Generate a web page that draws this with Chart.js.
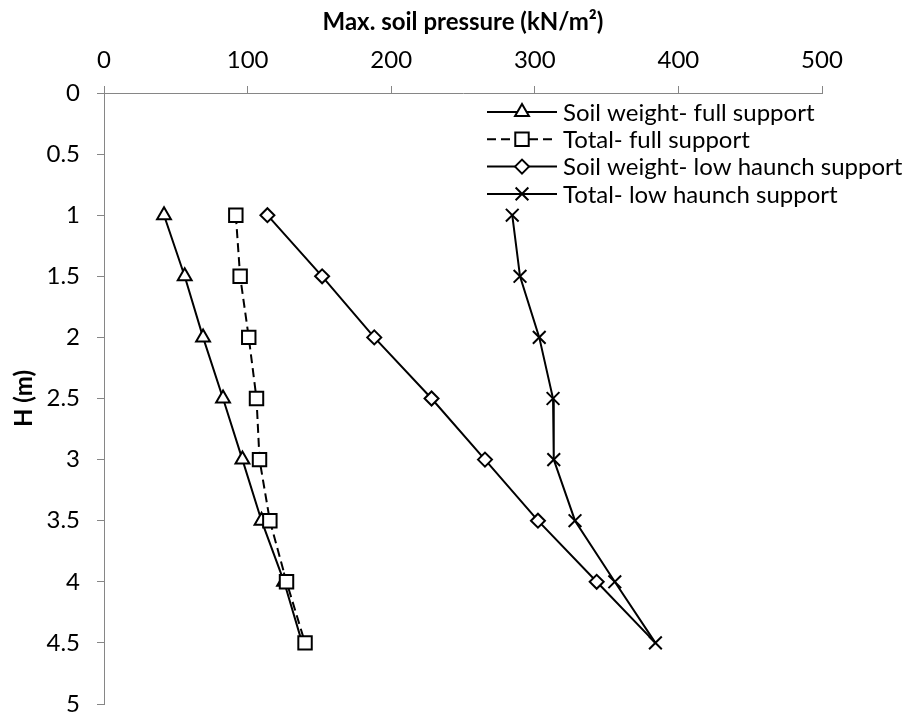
<!DOCTYPE html>
<html lang="en">
<head>
    <meta charset="UTF-8">
    <title>Max. soil pressure vs H</title>
    <script src="https://cdn.jsdelivr.net/npm/chart.js"></script>
    <style>
        body { margin: 0; background: #fff; }
        #box { width: 913px; height: 713px; }
    </style>
</head>
<body>
    <div id="box">
        <canvas id="myChart" width="913" height="713"></canvas>
    </div>

    <script>
        // depth H (m) for each measured point
        const depths = [1, 1.5, 2, 2.5, 3, 3.5, 4, 4.5];

        // max. soil pressure (kN/m²)
        const soilFull = [41.8, 56.2, 69.0, 82.9, 96.4, 109.7, 125.4, 138.0];
        const totalFull = [91.8, 94.8, 100.8, 106.2, 108.3, 115.5, 127.1, 140.0];
        const soilLow = [113.8, 151.9, 188.2, 228.1, 265.3, 302.2, 343.1, 384.0];
        const totalLow = [284.3, 289.7, 303.1, 312.7, 313.2, 328.0, 355.7, 384.0];

        const seriesNames = [
            'Soil weight- full support',
            'Total- full support',
            'Soil weight- low haunch support',
            'Total- low haunch support'
        ];

        const xTicks = [0, 100, 200, 300, 400, 500];
        const yTicks = ['0', '0.5', '1', '1.5', '2', '2.5', '3', '3.5', '4', '4.5', '5'];

        const FONT = 'Lato';
        const FSIZE = 24;
        const axisGrey = '#868686';

        const toPoints = (vals) => vals.map((v, i) => ({ x: v, y: depths[i] }));

        // last marker of the "soil weight" series sits under the other series' marker
        const radii = (r, hideLast) => depths.map((d, i) => (hideLast && i === depths.length - 1) ? 0 : r);

        const makeSet = (label, vals, style, radius, dash, order, hideLast) => ({
            label: label,
            data: toPoints(vals),
            borderColor: '#000',
            borderWidth: 2,
            borderDash: dash,
            pointStyle: style,
            legendRadius: radius,
            pointRadius: radii(radius, hideLast),
            pointHoverRadius: radii(radius, hideLast),
            pointBackgroundColor: '#fff',
            pointBorderColor: '#000',
            pointBorderWidth: 2,
            tension: 0,
            fill: false,
            order: order,
            clip: false
        });

        const chartData = {
            datasets: [
                makeSet(seriesNames[0], soilFull, 'triangle', 8, [], 3, true),
                makeSet(seriesNames[1], totalFull, 'rect', 9.5, [9, 5], 2, false),
                makeSet(seriesNames[2], soilLow, 'rectRot', 7, [], 1, true),
                makeSet(seriesNames[3], totalLow, 'crossRot', 9, [], 0, false)
            ]
        };

        // legend drawn inside the plot, line + marker + label
        const innerLegend = {
            id: 'innerLegend',
            afterDatasetsDraw(chart) {
                const ctx = chart.ctx;
                const area = chart.chartArea;
                const x0 = area.left + 383;
                const x1 = area.left + 453;
                const xm = (x0 + x1) / 2;
                const textX = area.left + 459;
                ctx.save();
                ctx.font = FSIZE + 'px ' + FONT;
                ctx.textBaseline = 'middle';
                chart.data.datasets.forEach((ds, i) => {
                    const y = area.top + 19 + i * 27.3;
                    ctx.strokeStyle = '#000';
                    ctx.lineWidth = 2;
                    ctx.setLineDash(ds.borderDash || []);
                    ctx.beginPath();
                    ctx.moveTo(x0, y);
                    ctx.lineTo(x1, y);
                    ctx.stroke();
                    ctx.setLineDash([]);
                    ctx.fillStyle = '#fff';
                    Chart.helpers.drawPoint(ctx, {
                        pointStyle: ds.pointStyle,
                        radius: ds.legendRadius,
                        rotation: 0,
                        borderWidth: 2
                    }, xm, y);
                    ctx.fillStyle = '#000';
                    ctx.fillText(ds.label, textX, y + 1);
                });
                ctx.restore();
            }
        };

        const chartDraw = function () {
            const chartCanvas = document.getElementById('myChart').getContext('2d');
            new Chart(chartCanvas, {
                type: 'line',
                data: chartData,
                plugins: [innerLegend],
                options: {
                    responsive: false,
                    animation: false,
                    layout: {
                        autoPadding: false,
                        padding: { top: 0, left: 0, right: 91, bottom: 9 }
                    },
                    scales: {
                        x: {
                            type: 'linear',
                            position: 'top',
                            min: xTicks[0],
                            max: xTicks[xTicks.length - 1],
                            ticks: {
                                stepSize: xTicks[1] - xTicks[0],
                                color: '#000',
                                font: { family: FONT, size: FSIZE },
                                padding: 11,
                                maxRotation: 0
                            },
                            grid: { drawOnChartArea: false, color: axisGrey, tickLength: 7 },
                            border: { color: axisGrey, width: 1 },
                            title: {
                                display: true,
                                text: 'Max. soil pressure (kN/m²)',
                                color: '#000',
                                font: { family: FONT, size: FSIZE, weight: 'bold' },
                                padding: { top: 8, bottom: 0 }
                            },
                            afterFit(scale) {
                                scale.height = 93;
                                scale.paddingLeft = 0;
                                scale.paddingRight = 0;
                            }
                        },
                        y: {
                            type: 'linear',
                            reverse: true,
                            min: 0,
                            max: 5,
                            ticks: {
                                stepSize: 0.5,
                                color: '#000',
                                font: { family: FONT, size: FSIZE },
                                padding: 17,
                                callback: (v) => yTicks[Math.round(v * 2)]
                            },
                            grid: { drawOnChartArea: false, color: axisGrey, tickLength: 7 },
                            border: { color: axisGrey, width: 1 },
                            title: {
                                display: true,
                                text: 'H (m)',
                                color: '#000',
                                font: { family: FONT, size: FSIZE, weight: 'bold' },
                                padding: { top: 10, bottom: 0 }
                            },
                            afterFit(scale) {
                                scale.width = 104;
                                scale.paddingTop = 0;
                                scale.paddingBottom = 0;
                            }
                        }
                    },
                    plugins: {
                        legend: { display: false },
                        tooltip: { enabled: false }
                    }
                }
            });
        }

        window.onload = function () {
            chartDraw();
        }
    </script>
</body>
</html>
